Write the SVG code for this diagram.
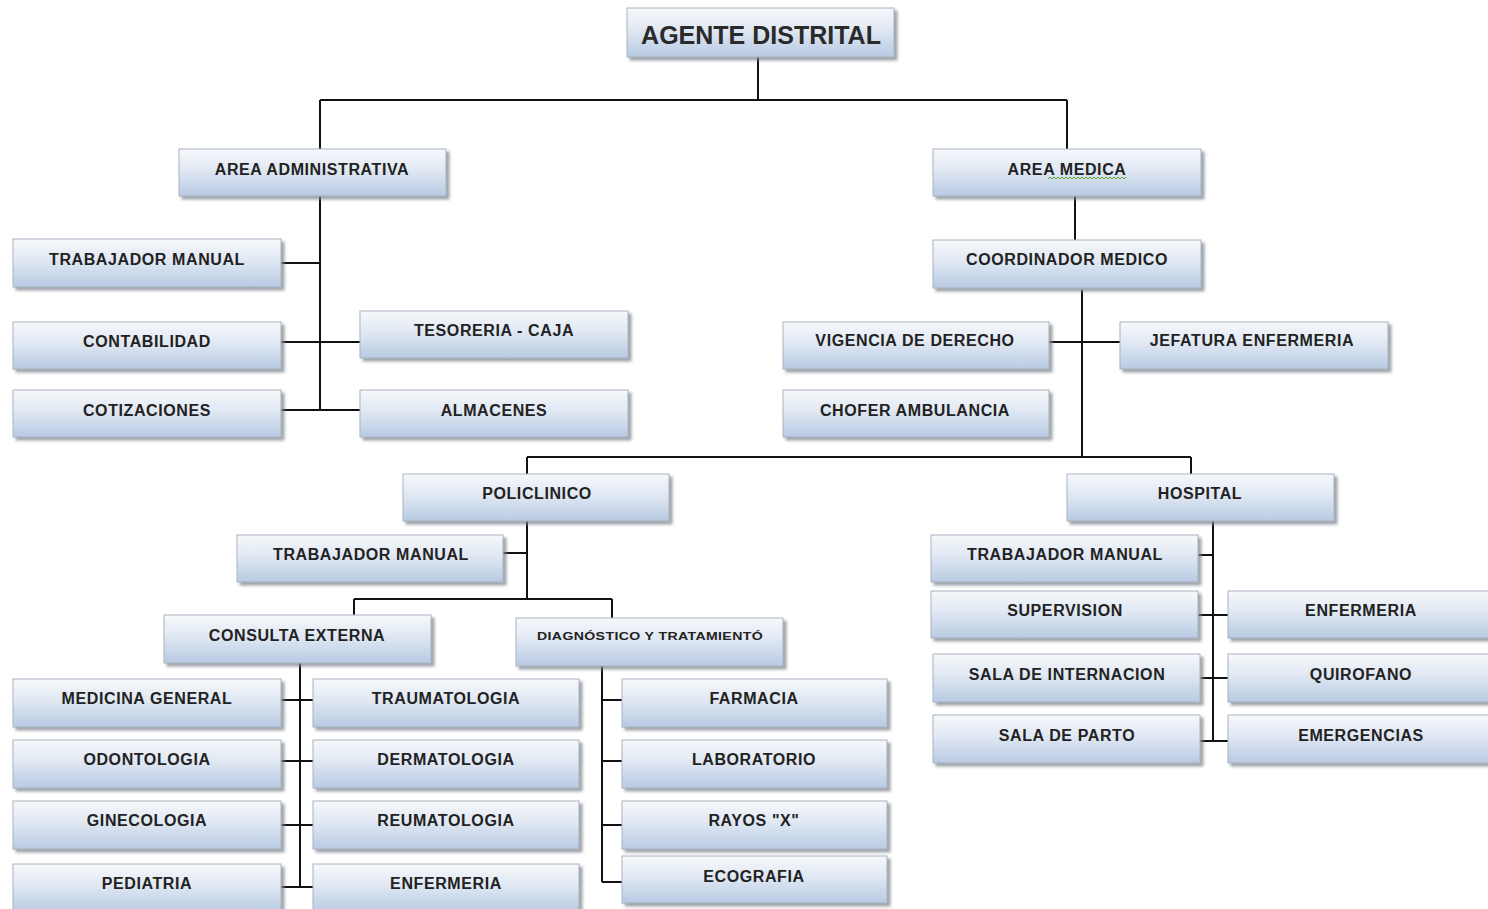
<svg xmlns="http://www.w3.org/2000/svg" width="1488" height="909" viewBox="0 0 1488 909">
<defs>
<linearGradient id="g" x1="0" y1="0" x2="0" y2="1">
<stop offset="0" stop-color="#f6f8fb"/>
<stop offset="0.4" stop-color="#e3eaf4"/>
<stop offset="1" stop-color="#b8cae3"/>
</linearGradient>
<filter id="sh" x="-5%" y="-10%" width="115%" height="140%">
<feDropShadow dx="3" dy="3" stdDeviation="1.5" flood-color="#7d838b" flood-opacity="0.75"/>
</filter>
</defs>
<style>
.b{fill:url(#g);stroke:#aab3c0;stroke-width:1;filter:url(#sh)}
.t{font-family:"Liberation Sans",Arial,sans-serif;font-weight:bold;font-size:16px;fill:#222;text-anchor:middle;letter-spacing:0.6px}
.big{font-size:25px;letter-spacing:0;fill:#2a2a2a}
.sm{font-size:11px;letter-spacing:0.3px}
.c{fill:none;stroke:#111;stroke-width:2}
</style>
<rect width="1488" height="909" fill="#ffffff"/>
<g id="connectors">
<path class="c" d="M758 57V100M320 100H1067M320 100V150M1067 100V150"/>
<path class="c" d="M320 196V410M281 263H320M281 342H360M281 410H360"/>
<path class="c" d="M1075 196V240M1082 290V457M1049 342H1120M527 457H1191M527 457V474M1191 457V474"/>
<path class="c" d="M527 521V599M503 553H527M354 599H612M354 599V615M612 599V618"/>
<path class="c" d="M300 663V887M281 700H313M281 761H313M281 825H313M281 887H313"/>
<path class="c" d="M602 666V882M602 700H622M602 761H622M602 825H622M602 882H622"/>
<path class="c" d="M1213 521V741M1198 555H1213M1198 615H1228M1200 678H1228M1200 741H1228"/>
</g>
<g id="n0"><rect class="b" x="627" y="8" width="267" height="49"/><text class="t big" x="761" y="44">AGENTE DISTRITAL</text></g>
<g id="n1"><rect class="b" x="179" y="149" width="267" height="47"/><text class="t" x="312" y="175">AREA ADMINISTRATIVA</text></g>
<g id="n2"><rect class="b" x="933" y="149" width="268" height="47"/><text class="t" x="1067" y="175">AREA MEDICA</text><path d="M1048 179l2 -2l2 2l2 -2l2 2l2 -2l2 2l2 -2l2 2l2 -2l2 2l2 -2l2 2l2 -2l2 2l2 -2l2 2l2 -2l2 2l2 -2l2 2l2 -2l2 2l2 -2l2 2l2 -2l2 2l2 -2l2 2l2 -2l2 2l2 -2l2 2l2 -2l2 2l2 -2l2 2l2 -2l2 2l2 -2" fill="none" stroke="#5aa832" stroke-width="1"/></g>
<g id="a1"><rect class="b" x="13" y="239" width="268" height="48"/><text class="t" x="147" y="265">TRABAJADOR MANUAL</text></g>
<g id="a2"><rect class="b" x="13" y="322" width="268" height="47"/><text class="t" x="147" y="347">CONTABILIDAD</text></g>
<g id="a3"><rect class="b" x="13" y="390" width="268" height="47"/><text class="t" x="147" y="416">COTIZACIONES</text></g>
<g id="a4"><rect class="b" x="360" y="311" width="268" height="47"/><text class="t" x="494" y="336">TESORERIA - CAJA</text></g>
<g id="a5"><rect class="b" x="360" y="390" width="268" height="47"/><text class="t" x="494" y="416">ALMACENES</text></g>
<g id="m1"><rect class="b" x="933" y="240" width="268" height="48"/><text class="t" x="1067" y="265">COORDINADOR MEDICO</text></g>
<g id="m2"><rect class="b" x="783" y="322" width="266" height="47"/><text class="t" x="915" y="346">VIGENCIA DE DERECHO</text></g>
<g id="m3"><rect class="b" x="1120" y="322" width="268" height="47"/><text class="t" x="1252" y="346">JEFATURA ENFERMERIA</text></g>
<g id="m4"><rect class="b" x="783" y="390" width="266" height="47"/><text class="t" x="915" y="416">CHOFER AMBULANCIA</text></g>
<g id="p0"><rect class="b" x="403" y="474" width="266" height="47"/><text class="t" x="537" y="499">POLICLINICO</text></g>
<g id="h0"><rect class="b" x="1067" y="474" width="267" height="47"/><text class="t" x="1200" y="499">HOSPITAL</text></g>
<g id="p1"><rect class="b" x="237" y="535" width="266" height="47"/><text class="t" x="371" y="560">TRABAJADOR MANUAL</text></g>
<g id="p2"><rect class="b" x="164" y="615" width="267" height="48"/><text class="t" x="297" y="641">CONSULTA EXTERNA</text></g>
<g id="p3"><rect class="b" x="516" y="618" width="267" height="48"/><text class="t sm" x="650" y="640" textLength="226" lengthAdjust="spacingAndGlyphs">DIAGNÓSTICO Y TRATAMIENTÓ</text></g>
<g id="c1"><rect class="b" x="13" y="679" width="268" height="48"/><text class="t" x="147" y="704">MEDICINA GENERAL</text></g>
<g id="c2"><rect class="b" x="13" y="740" width="268" height="48"/><text class="t" x="147" y="765">ODONTOLOGIA</text></g>
<g id="c3"><rect class="b" x="13" y="801" width="268" height="48"/><text class="t" x="147" y="826">GINECOLOGIA</text></g>
<g id="c4"><rect class="b" x="13" y="864" width="268" height="48"/><text class="t" x="147" y="889">PEDIATRIA</text></g>
<g id="c5"><rect class="b" x="313" y="679" width="266" height="48"/><text class="t" x="446" y="704">TRAUMATOLOGIA</text></g>
<g id="c6"><rect class="b" x="313" y="740" width="266" height="48"/><text class="t" x="446" y="765">DERMATOLOGIA</text></g>
<g id="c7"><rect class="b" x="313" y="801" width="266" height="48"/><text class="t" x="446" y="826">REUMATOLOGIA</text></g>
<g id="c8"><rect class="b" x="313" y="864" width="266" height="48"/><text class="t" x="446" y="889">ENFERMERIA</text></g>
<g id="d1"><rect class="b" x="622" y="679" width="265" height="48"/><text class="t" x="754" y="704">FARMACIA</text></g>
<g id="d2"><rect class="b" x="622" y="740" width="265" height="48"/><text class="t" x="754" y="765">LABORATORIO</text></g>
<g id="d3"><rect class="b" x="622" y="801" width="265" height="48"/><text class="t" x="754" y="826">RAYOS "X"</text></g>
<g id="d4"><rect class="b" x="622" y="856" width="265" height="47"/><text class="t" x="754" y="882">ECOGRAFIA</text></g>
<g id="h1"><rect class="b" x="931" y="535" width="267" height="47"/><text class="t" x="1065" y="560">TRABAJADOR MANUAL</text></g>
<g id="h2"><rect class="b" x="931" y="591" width="267" height="47"/><text class="t" x="1065" y="616">SUPERVISION</text></g>
<g id="h3"><rect class="b" x="933" y="654" width="267" height="48"/><text class="t" x="1067" y="680">SALA DE INTERNACION</text></g>
<g id="h4"><rect class="b" x="933" y="715" width="267" height="48"/><text class="t" x="1067" y="741">SALA DE PARTO</text></g>
<g id="h5"><rect class="b" x="1228" y="591" width="270" height="47"/><text class="t" x="1361" y="616">ENFERMERIA</text></g>
<g id="h6"><rect class="b" x="1228" y="654" width="270" height="48"/><text class="t" x="1361" y="680">QUIROFANO</text></g>
<g id="h7"><rect class="b" x="1228" y="715" width="270" height="48"/><text class="t" x="1361" y="741">EMERGENCIAS</text></g>
</svg>
